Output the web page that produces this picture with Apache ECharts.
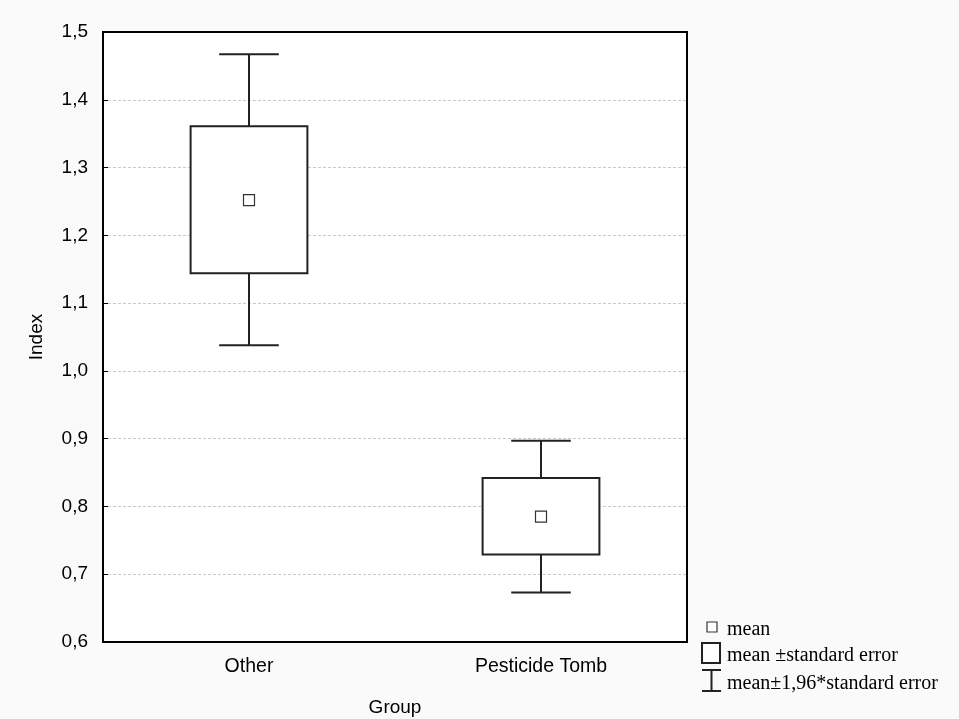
<!DOCTYPE html>
<html><head><meta charset="utf-8">
<script src="https://cdn.jsdelivr.net/npm/echarts@6/dist/echarts.min.js"></script>
<style>html,body{margin:0;padding:0;background:#fafafa;}#c{width:959px;height:719px;}</style>
</head><body><div id="c"></div>
<script>
const groups = ['Other', 'Pesticide Tomb'];
const means = [1.252, 0.785];
const seLow = [1.144, 0.729];
const seHigh = [1.361, 0.842];
const ciLow = [1.038, 0.673];
const ciHigh = [1.467, 0.897];
const yTicks = [0.6, 0.7, 0.8, 0.9, 1.0, 1.1, 1.2, 1.3, 1.4, 1.5];

const data = groups.map((g, i) => [i, means[i], seLow[i], seHigh[i], ciLow[i], ciHigh[i]]);
const chart = echarts.init(document.getElementById('c'));
const sans = 'Liberation Sans, Arial, sans-serif';
const serif = 'Liberation Serif, Times New Roman, serif';

chart.setOption({
  backgroundColor: '#fafafa',
  animation: false,
  grid: {left: 103, right: 272, top: 32, bottom: 77, outerBoundsMode: 'none', containLabel: false,
         show: true, backgroundColor: '#ffffff', borderColor: '#000', borderWidth: 2},
  xAxis: {
    type: 'category', data: groups, boundaryGap: true,
    name: 'Group', nameLocation: 'middle', nameGap: 56,
    nameTextStyle: {fontFamily: sans, fontSize: 19, color: '#000'},
    axisLine: {lineStyle: {color: '#000', width: 2}},
    axisTick: {inside: true, alignWithLabel: true, length: 5, lineStyle: {color: '#000', width: 1}},
    axisLabel: {fontFamily: sans, fontSize: 19.5, color: '#000', margin: 15},
    splitLine: {show: false}
  },
  yAxis: {
    type: 'value', min: yTicks[0], max: yTicks[yTicks.length - 1], interval: 0.1,
    name: 'Index', nameLocation: 'middle', nameGap: 57,
    nameTextStyle: {fontFamily: sans, fontSize: 19, color: '#000'},
    axisLine: {show: true, lineStyle: {color: '#000', width: 2}},
    axisTick: {show: true, inside: true, length: 5, lineStyle: {color: '#000', width: 1}},
    axisLabel: {fontFamily: sans, fontSize: 19, color: '#000', margin: 15,
      formatter: v => v.toFixed(1).replace('.', ',')},
    splitLine: {show: true, showMinLine: false, showMaxLine: false, lineStyle: {color: '#c8c8c8', type: [3, 2], width: 1}}
  },
  series: [{
    type: 'custom',
    data: data,
    encode: {x: 0, y: [1, 2, 3, 4, 5]},
    renderItem: function (params, api) {
      const x = api.value(0);
      const pM = api.coord([x, api.value(1)]);
      const pSL = api.coord([x, api.value(2)]);
      const pSH = api.coord([x, api.value(3)]);
      const pCL = api.coord([x, api.value(4)]);
      const pCH = api.coord([x, api.value(5)]);
      const bw = api.size([1, 0])[0] * 0.4;
      const cw = bw * 0.51;
      const cx = pM[0];
      const st = {stroke: '#222', lineWidth: 2, fill: null};
      return {type: 'group', children: [
        {type: 'line', shape: {x1: cx, y1: pCH[1], x2: cx, y2: pSH[1]}, style: st},
        {type: 'line', shape: {x1: cx, y1: pSL[1], x2: cx, y2: pCL[1]}, style: st},
        {type: 'line', shape: {x1: cx - cw/2, y1: pCH[1], x2: cx + cw/2, y2: pCH[1]}, style: st},
        {type: 'line', shape: {x1: cx - cw/2, y1: pCL[1], x2: cx + cw/2, y2: pCL[1]}, style: st},
        {type: 'rect', shape: {x: cx - bw/2, y: pSH[1], width: bw, height: pSL[1] - pSH[1]}, style: {stroke: '#222', lineWidth: 2, fill: '#fff'}},
        {type: 'rect', shape: {x: cx - 5.5, y: pM[1] - 5.5, width: 11, height: 11}, style: {stroke: '#333', lineWidth: 1.2, fill: '#fff'}}
      ]};
    }
  }],
  graphic: [
    {type: 'rect', x: 707, y: 622, shape: {width: 10, height: 10}, style: {stroke: '#333', lineWidth: 1.2, fill: '#fff'}},
    {type: 'text', x: 727, y: 630, style: {text: 'mean', font: '20px ' + serif, fill: '#000', verticalAlign: 'middle'}},
    {type: 'rect', x: 702, y: 643, shape: {width: 18, height: 20}, style: {stroke: '#222', lineWidth: 2, fill: '#fff'}},
    {type: 'text', x: 727, y: 656, style: {text: 'mean \u00b1standard error', font: '20px ' + serif, fill: '#000', verticalAlign: 'middle'}},
    {type: 'group', x: 702, y: 670, children: [
      {type: 'line', shape: {x1: 0, y1: 0, x2: 19, y2: 0}, style: {stroke: '#222', lineWidth: 2}},
      {type: 'line', shape: {x1: 9.5, y1: 0, x2: 9.5, y2: 21}, style: {stroke: '#222', lineWidth: 2}},
      {type: 'line', shape: {x1: 0, y1: 21, x2: 19, y2: 21}, style: {stroke: '#222', lineWidth: 2}}
    ]},
    {type: 'text', x: 727, y: 684, style: {text: 'mean\u00b11,96*standard error', font: '20px ' + serif, fill: '#000', verticalAlign: 'middle'}}
  ]
});
</script></body></html>
